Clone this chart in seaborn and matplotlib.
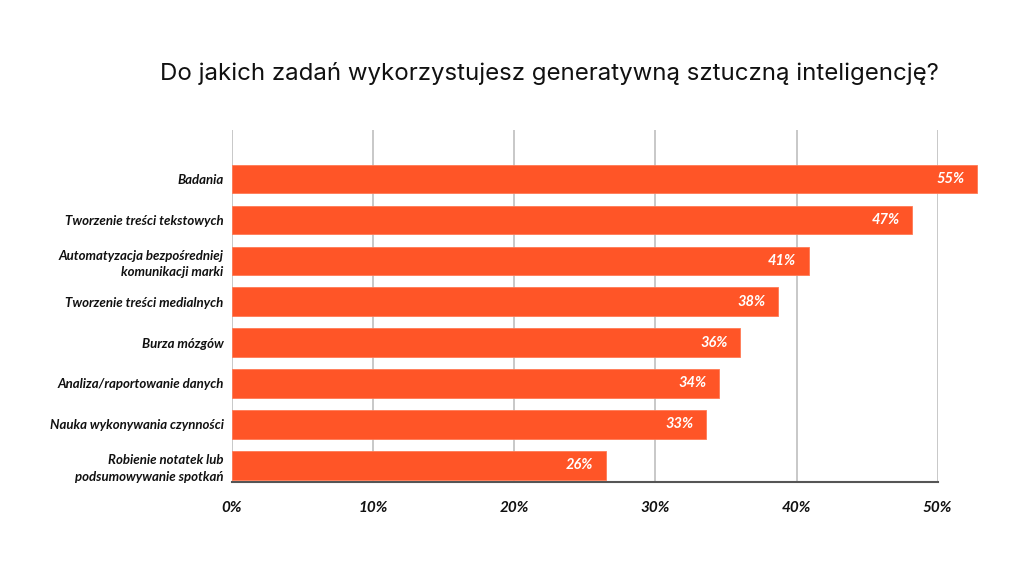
import matplotlib
matplotlib.use("Agg")
import matplotlib.pyplot as plt
import seaborn as sns
import pandas as pd

categories = [
    "Badania",
    "Tworzenie treści tekstowych",
    "Automatyzacja bezpośredniej\nkomunikacji marki",
    "Tworzenie treści medialnych",
    "Burza mózgów",
    "Analiza/raportowanie danych",
    "Nauka wykonywania czynności",
    "Robienie notatek lub\npodsumowywanie spotkań",
]
# bar lengths as drawn in the picture (percent)
values = [52.8, 48.2, 40.85, 38.7, 36.0, 34.5, 33.6, 26.5]
value_labels = ["55%", "47%", "41%", "38%", "36%", "34%", "33%", "26%"]
ticks = [0, 10, 20, 30, 40, 50]
tick_labels = ["0%", "10%", "20%", "30%", "40%", "50%"]

BAR = "#FF5527"

sns.set_style("white")
plt.rcParams["font.family"] = ["Lato", "DejaVu Sans"]

df = pd.DataFrame({"task": categories, "share": values})

fig = plt.figure(figsize=(10.24, 5.76), dpi=100)
ax = fig.add_axes([0.2266, 0.1632, 0.9157 - 0.2266, 0.7743 - 0.1632])

sns.barplot(data=df, x="share", y="task", orient="h", color=BAR,
            saturation=1, width=0.7, ax=ax, zorder=3)
for p in ax.patches:
    p.set_clip_on(False)
    p.set_edgecolor("#FF7A55")
    p.set_linewidth(0.6)

ax.set_xlim(0, 50)
ax.set_ylim(7.41, -1.2)
ax.set_xticks(ticks)
ax.set_xticklabels(tick_labels, fontsize=11, fontweight="bold",
                   style="italic", color="#111111")
ax.tick_params(axis="x", length=0, pad=14)
ax.tick_params(axis="y", length=0, pad=6)
for lab in ax.get_yticklabels():
    lab.set_fontsize(9.5)
    lab.set_fontweight("bold")
    lab.set_style("italic")
    lab.set_color("#111111")
    lab.set_multialignment("right")
    lab.set_linespacing(1.45)

ax.grid(axis="x", color="#c8c8c8", linewidth=1.4, zorder=0)
ax.grid(axis="y", visible=False)
for s in ["top", "right", "left"]:
    ax.spines[s].set_visible(False)
ax.spines["bottom"].set_color("#555555")
ax.spines["bottom"].set_linewidth(1.5)
ax.set_xlabel("")
ax.set_ylabel("")

for i, (v, t) in enumerate(zip(values, value_labels)):
    ax.annotate(t, xy=(v, i), xytext=(-9, 0), textcoords="offset points",
                ha="right", va="center", color="white", fontsize=10.5,
                fontweight="bold", style="italic", annotation_clip=False,
                zorder=4)

fig.text(0.537, 0.873, "Do jakich zadań wykorzystujesz generatywną sztuczną inteligencję?",
         ha="center", va="center", fontsize=17.3, color="#111111",
         family=["Inter", "DejaVu Sans"])

fig.savefig("out.png", dpi=100, facecolor="white")
